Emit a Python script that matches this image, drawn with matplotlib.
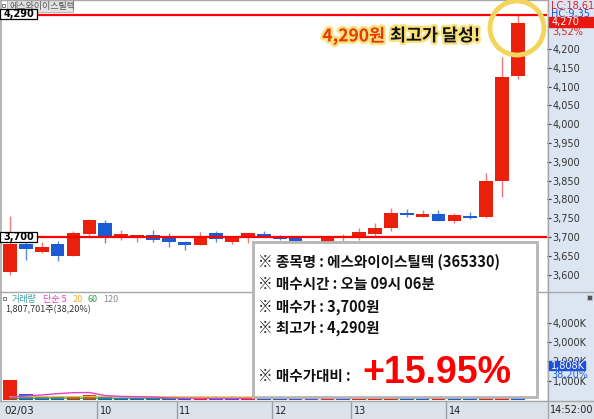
import matplotlib
matplotlib.use("Agg")
import matplotlib.pyplot as plt
import matplotlib.patheffects as pe
from matplotlib import font_manager
from matplotlib.patches import Rectangle, Ellipse
from matplotlib.ticker import FuncFormatter
import numpy as np

# ── Data (10-minute-ish candles, 02/03) ──────────────────────────────────────
opens  = [3607, 3681, 3660, 3681, 3649, 3708, 3737, 3703, 3700, 3705, 3700,
          3687, 3679, 3711, 3687, 3700, 3708, 3700, 3700, 3684, 3687, 3681,
          3700, 3708, 3724, 3764, 3753, 3761, 3743, 3756, 3753, 3849, 4128]
highs  = [3756, 3687, 3687, 3689, 3716, 3748, 3745, 3719, 3705, 3719, 3711,
          3690, 3713, 3716, 3700, 3711, 3716, 3705, 3703, 3687, 3703, 3708,
          3724, 3737, 3777, 3774, 3772, 3772, 3764, 3766, 3870, 4179, 4290]
lows   = [3599, 3639, 3657, 3636, 3649, 3703, 3684, 3692, 3687, 3687, 3673,
          3665, 3679, 3687, 3681, 3684, 3700, 3692, 3684, 3670, 3681, 3676,
          3692, 3703, 3716, 3753, 3753, 3743, 3737, 3748, 3750, 3806, 4120]
closes = [3681, 3668, 3673, 3649, 3711, 3745, 3703, 3708, 3705, 3692, 3687,
          3679, 3700, 3695, 3700, 3711, 3700, 3695, 3689, 3676, 3700, 3686,
          3713, 3724, 3764, 3758, 3761, 3743, 3758, 3750, 3849, 4126, 4270]
volume = [1040, 330, 180, 150, 200, 280, 160, 110, 100, 90, 80,
          70, 90, 80, 70, 110, 90, 80, 70, 60, 90, 80,
          150, 180, 420, 200, 160, 190, 170, 130, 1250, 2600, 1808]   # K shares
ma5    = [150, 210, 260, 330, 380, 390, 230, 185, 170, 150, 110,
          90, 85, 80, 80, 85, 85, 85, 80, 75, 80, 80,
          95, 115, 165, 205, 225, 230, 225, 170, 380, 860, 1190]
ma20   = [175, 175, 175, 176, 178, 180, 180, 178, 176, 172, 170,
          165, 165, 162, 160, 158, 155, 152, 150, 150, 150, 150,
          150, 150, 150, 152, 155, 158, 160, 162, 210, 320, 400]
ma60   = [95, 95, 95, 96, 96, 97, 97, 97, 97, 97, 97,
          96, 96, 96, 96, 96, 96, 96, 96, 96, 96, 96,
          97, 98, 100, 101, 102, 103, 104, 105, 122, 160, 185]

hour_breaks = [5.5, 10.5, 16.5, 21.5, 27.5]
hour_labels = ["10", "11", "12", "13", "14"]
price_ticks = [3600, 3650, 3700, 3750, 3800, 3850, 3900, 3950,
               4000, 4050, 4100, 4150, 4200]
vol_ticks   = [1000, 2000, 3000, 4000]

stock_name = "에스와이이스틸텍"
stock_code = "365330"
buy_price  = 3700
high_price = 4290

# ── Style ─────────────────────────────────────────────────────────────────────
W, H = 594, 419
RED, BLUE = "#e8200c", "#1c5cd2"
RED_WICK, BLUE_WICK = "#f07a7a", "#5a8ae6"
PANEL, BAND, LINE = "#dce6f2", "#dbe2ea", "#a8a8a8"

names = {f.name for f in font_manager.fontManager.ttflist}
NARROW = "Liberation Sans Narrow" if "Liberation Sans Narrow" in names else "DejaVu Sans"
plt.rcParams["font.family"] = ["Noto Sans CJK KR", "DejaVu Sans"]

fig = plt.figure(figsize=(W / 100, H / 100), dpi=100)
fig.patch.set_facecolor("white")


def px_axes(x0, y0, x1, y1, **kw):
    return fig.add_axes([x0 / W, 1 - y1 / H, (x1 - x0) / W, (y1 - y0) / H], **kw)


def canvas(z):
    a = px_axes(0, 0, W, H, zorder=z)
    a.set_xlim(0, W); a.set_ylim(H, 0); a.axis("off")
    return a


# background canvas: right scale panel + date band
bg = canvas(-5)
bg.add_patch(Rectangle((547, 0), W - 547, 401, color=PANEL))
bg.add_patch(Rectangle((0, 401), W, H - 401, color=BAND))

idx = np.arange(len(opens))
o, h, l, c = map(np.array, (opens, highs, lows, closes))
up = c >= o
XLIM = (-0.504, 33.84)

# ── Price panel ───────────────────────────────────────────────────────────────
ax = px_axes(2, 2, 547, 291)
ax.set_xlim(*XLIM)
ax.set_ylim(3556.4, 4325)
ax.vlines(idx, l, h, colors=np.where(up, RED_WICK, BLUE_WICK), lw=1, zorder=2)
ax.bar(idx, np.maximum(np.abs(c - o), 4), bottom=np.minimum(o, c), width=0.86,
       color=np.where(up, RED, BLUE), zorder=3)
ax.axhline(high_price, color="#ff0000", lw=1.6, zorder=4)
ax.axhline(buy_price, color="#ff0000", lw=1.6, zorder=4)
ax.set_xticks([])
ax.set_yticks(price_ticks)
ax.yaxis.tick_right()
ax.yaxis.set_major_formatter(FuncFormatter(lambda v, _: f"{v:,.0f}"))
ax.tick_params(axis="y", direction="out", length=3, pad=1, labelsize=7,
               colors="#333333")
for t in ax.get_yticklabels():
    t.set_family(NARROW)
for s in ax.spines.values():
    s.set_visible(False)

# ── Volume panel ──────────────────────────────────────────────────────────────
vol = np.array(volume)
vcol = [RED] + [RED if vol[i] >= vol[i - 1] else BLUE for i in range(1, len(vol))]
av = px_axes(2, 292, 547, 400)
av.set_xlim(*XLIM)
av.set_ylim(0, 5610)
av.bar(idx, vol, width=0.86, color=vcol, zorder=2)
av.plot(idx, ma60, color="#2ca05a", lw=1, zorder=3)
av.plot(idx, ma20, color="#f5c040", lw=1, zorder=3)
av.plot(idx, ma5, color="#e040d0", lw=1, zorder=3)
av.set_xticks([])
av.set_yticks(vol_ticks)
av.yaxis.tick_right()
av.yaxis.set_major_formatter(FuncFormatter(lambda v, _: f"{v:,.0f}K"))
av.tick_params(axis="y", direction="out", length=3, pad=1, labelsize=7,
               colors="#333333")
for t in av.get_yticklabels():
    t.set_family(NARROW)
for s in av.spines.values():
    s.set_visible(False)

# ── Date band ─────────────────────────────────────────────────────────────────
ad = px_axes(2, 401, 547, 419)
ad.set_facecolor(BAND)
ad.set_xlim(*XLIM); ad.set_ylim(0, 1)
ad.vlines(hour_breaks, 0, 1, colors="#9aa0a8", lw=1)
for b, lab in zip(hour_breaks, hour_labels):
    ad.annotate(lab, (b, 0.45), xytext=(2, 0), textcoords="offset points",
                va="center", ha="left", fontsize=7, family=NARROW, color="#222")
ad.text(0.004, 0.45, "02/03", transform=ad.transAxes, va="center", ha="left",
        fontsize=7.5, family=NARROW, color="#222")
ad.set_xticks([]); ad.set_yticks([])
for s in ad.spines.values():
    s.set_visible(False)

# ── Overlay: frame lines, labels, note box ────────────────────────────────────
top = canvas(10)
top.plot([547.5, 547.5], [0, H], color=LINE, lw=1)
top.plot([0, W], [291.5, 291.5], color=LINE, lw=1)
top.plot([0, W], [401, 401], color=LINE, lw=1)
top.plot([1, 1], [0, 401], color=LINE, lw=1.2)
top.plot([0, 547], [0.5, 0.5], color=LINE, lw=1)

# title tab
top.add_patch(Rectangle((2, 4), 3, 3, fc="none", ec="#666", lw=0.6))
top.add_patch(Rectangle((7, 0), 66, 12, fc="#e2e2e2", ec="#b0b0b0", lw=0.6))
top.text(9, 6.5, stock_name, fontsize=6.5, color="#555", va="center", ha="left")

# price marker boxes
for y0, val in [(9, high_price), (232, buy_price)]:
    top.add_patch(Rectangle((0, y0), 37, 10, fc="white", ec="black", lw=0.9, zorder=4))
    top.text(18.5, y0 + 5, f"{val:,}", fontsize=7, weight="bold", ha="center",
             va="center", family=["DejaVu Sans"], zorder=5)

# right scale extras
top.text(551, 6, "LC:18,61", fontsize=7, color="#e02020", family=NARROW, va="center")
top.text(551, 14, "HC:9,35", fontsize=7, color="#2050d0", family=NARROW, va="center")
top.add_patch(Rectangle((549, 17), W - 549, 10, color="#e8170f", zorder=4))
top.text(552, 22, f"{closes[-1]:,}", fontsize=7, color="white", family=NARROW,
         va="center", zorder=5)
top.text(552, 32, "3,52%", fontsize=7, color="#e02020", family=NARROW, va="center")

top.add_patch(Rectangle((587, 295), 5, 5, fc="#555", ec="#ccc", lw=0.5))
top.add_patch(Rectangle((549, 361), 36, 9, color="#1f4fd6", zorder=4))
top.text(551, 365.5, f"{volume[-1]:,}K", fontsize=7, color="white", family=NARROW,
         va="center", zorder=5)
top.text(551, 375, "38,20%", fontsize=7, color="#2060e0", family=NARROW,
         va="center", zorder=5)
top.text(572, 410, "14:52:00", fontsize=7, color="#222", family=NARROW,
         va="center", ha="center")

# volume legend
top.add_patch(Rectangle((3, 297), 3, 3, fc="none", ec="#666", lw=0.6))
for txt, col, xx in [("거래량", "#3a9fa8", 12), ("단순 5", "#e040c0", 43),
                     ("20", "#f0b030", 73), ("60", "#30a050", 87), ("120", "#888888", 103)]:
    top.text(xx, 299.5, txt, fontsize=6.5, color=col, va="center", ha="left")
top.text(5, 310, "1,807,701주(38,20%)", fontsize=6.5, color="#333", va="center", ha="left")

# highlight circle + headline
top.add_patch(Ellipse((517, 28), 54, 54, fc="none", ec="#f3d45c", lw=3.5, zorder=6))
glow = [pe.withStroke(linewidth=3.5, foreground="#f9e27c")]
top.text(385, 36, f"{high_price:,}원", fontsize=12.5, weight="bold", color="#e8380d",
         ha="right", va="center", path_effects=glow, zorder=6)
top.text(390, 36, "최고가 달성!", fontsize=12.5, weight="bold", color="#111",
         ha="left", va="center", path_effects=glow, zorder=6)

# note box
top.add_patch(Rectangle((253, 242), 284, 155, fc="white", ec="#b5b5b5", lw=2, zorder=7))
lines = [f"※ 종목명 : {stock_name} ({stock_code})",
         "※ 매수시간 : 오늘 09시 06분",
         f"※ 매수가 : {buy_price:,}원",
         f"※ 최고가 : {high_price:,}원"]
for y, s in zip([262, 284, 306.5, 327.5], lines):
    top.text(258, y, s, fontsize=10.5, weight="bold", color="#111", va="center",
             ha="left", zorder=8)
top.text(258, 376, "※ 매수가대비 :", fontsize=10.5, weight="bold", color="#111",
         va="center", ha="left", zorder=8)
gain = (high_price / buy_price - 1) * 100
top.text(362, 383, f"+{gain:.2f}%", fontsize=27, weight="bold", color="#ff0000",
         va="baseline", ha="left", family=["Liberation Sans", "DejaVu Sans"], zorder=8)

fig.savefig("out.png", dpi=100)
